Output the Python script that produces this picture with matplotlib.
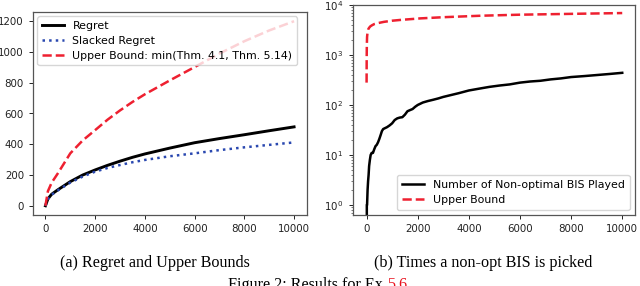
import matplotlib
matplotlib.use("Agg")
import matplotlib.pyplot as plt

# ---- Data (a): regret and upper bounds ----
t_a = [0, 100, 250, 500, 1000, 1500, 2000, 2500, 3000, 3500, 4000, 5000, 6000, 7000, 8000, 9000, 10000]
regret = [0, 45, 75, 104, 157, 200, 233, 263, 290, 315, 337, 375, 410, 437, 462, 488, 513]
slacked = [0, 43, 72, 100, 151, 190, 222, 246, 265, 283, 298, 322, 341, 362, 380, 396, 412]
upper_a = [0, 95, 150, 211, 341, 425, 492, 560, 620, 675, 725, 815, 902, 990, 1070, 1140, 1200]

# ---- Data (b): non-optimal BIS counts ----
t_b = [0, 10, 20, 40, 60, 80, 100, 130, 160, 200, 250, 300, 350, 400, 450, 500, 550, 600, 650, 700,
       800, 900, 1000, 1100, 1200, 1300, 1400, 1500, 1600, 1700, 1800, 1900, 2000, 2200, 2400, 2600,
       2800, 3000, 3300, 3600, 4000, 4400, 4800, 5200, 5600, 6000, 6400, 6800, 7200, 7600, 8000,
       8500, 9000, 9500, 10000]
count_b = [0, 1, 1, 2, 3, 4, 6, 8, 10, 11, 11, 13, 15, 16, 18, 21, 25, 30, 33, 34,
           36, 39, 43, 50, 54, 56, 57, 64, 75, 79, 83, 92, 100, 112, 120, 127,
           135, 145, 158, 172, 195, 212, 230, 245, 258, 280, 295, 305, 325, 340, 362,
           378, 397, 417, 440]
t_ub = [1, 5, 10, 20, 40, 70, 100, 150, 220, 300, 450, 680, 1000, 1330, 2110, 3000, 4460, 6000, 8000, 10000]
upper_b = [280, 900, 1500, 2300, 2900, 3300, 3500, 3750, 3950, 4150, 4350, 4600, 4850, 5030, 5400,
           5700, 6100, 6400, 6650, 6900]

xticks = [0, 2000, 4000, 6000, 8000, 10000]

plt.rcParams['font.family'] = ['DejaVu Sans']
fs = 7.9
tfs = 7.4
lw = 1.8

fig = plt.figure(figsize=(6.4, 2.86), dpi=100)
W, H = 640, 286

def ax_rect(l, r, t, b):
    return [l / W, 1 - b / H, (r - l) / W, (b - t) / H]

ax1 = fig.add_axes(ax_rect(33, 306.5, 12, 215))
ax2 = fig.add_axes(ax_rect(352.5, 634.5, 5, 215))

ax1.plot(t_a, regret, color='black', lw=lw + 0.3, label='Regret')
ax1.plot(t_a, slacked, color='#2a48b0', lw=lw, ls=':', label='Slacked Regret')
ax1.plot(t_a, upper_a, color='#ee2030', lw=lw, ls='--', label='Upper Bound: min(Thm. 4.1, Thm. 5.14)')
ax1.set_xticks(xticks)
ax1.set_yticks([0, 200, 400, 600, 800, 1000, 1200])
ax1.legend(loc='upper left', fontsize=fs, borderaxespad=0.4, labelspacing=0.45, borderpad=0.4)

ax2.plot(t_b, count_b, color='black', lw=lw, label='Number of Non-optimal BIS Played')
ax2.plot(t_ub, upper_b, color='#ee2030', lw=lw, ls='--', label='Upper Bound')
ax2.set_yscale('log')
ax2.set_ylim(0.63, 1e4)
ax2.set_xlim(-550, 10480)
ax2.set_xticks(xticks)
ax2.legend(loc='lower right', fontsize=fs, borderaxespad=0.45, labelspacing=0.5, borderpad=0.45)

for ax in (ax1, ax2):
    ax.tick_params(labelsize=tfs, length=3, width=0.7, colors='#222222')
    for s in ax.spines.values():
        s.set_color('#555555')
        s.set_linewidth(0.9)
ax2.tick_params(which='minor', length=1.8, width=0.5, colors='#444444')

serif = ['Liberation Serif', 'DejaVu Serif']
cfs = 11.6
fig.text(155 / W, 1 - 263 / H, '(a) Regret and Upper Bounds', ha='center', va='center',
         family=serif, fontsize=cfs)
fig.text(483 / W, 1 - 263 / H, '(b) Times a non-opt BIS is picked', ha='center', va='center',
         family=serif, fontsize=cfs)

# figure caption (cut off at the bottom edge, as in the source) with red reference number
yb = 1 - 289 / H
t1 = fig.text(0, yb, 'Figure 2: Results for Ex ', ha='left', va='baseline', family=serif, fontsize=cfs)
t2 = fig.text(0, yb, '5.6', ha='left', va='baseline', family=serif, fontsize=cfs, color='#e8101c')
fig.canvas.draw()
r = fig.canvas.get_renderer()
w1 = t1.get_window_extent(r).width
w2 = t2.get_window_extent(r).width
x0 = 318 - (w1 + w2) / 2
t1.set_x(x0 / W)
t2.set_x((x0 + w1) / W)

fig.savefig('out.png', dpi=100)
